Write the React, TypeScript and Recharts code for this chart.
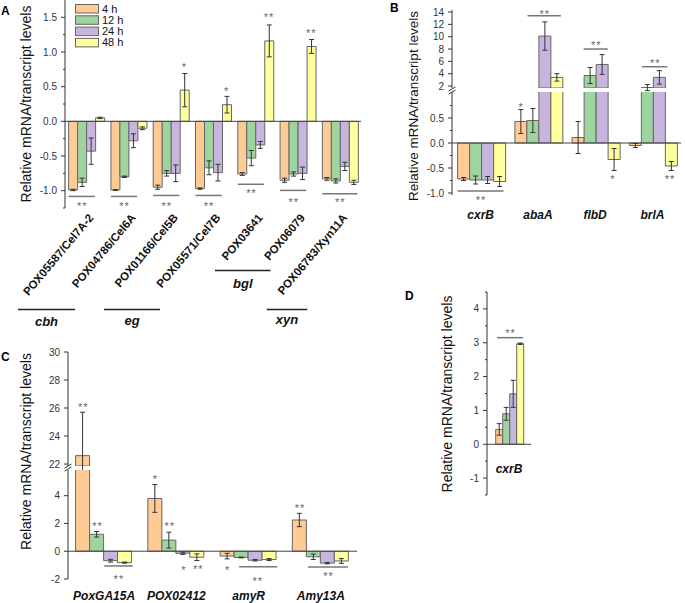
import React from 'react';
import { BarChart, Bar, XAxis, YAxis, ErrorBar, ReferenceLine, ReferenceDot } from 'recharts';

const FONT = '"Liberation Sans", Arial, Helvetica, sans-serif';
const SERIES = ['4 h', '12 h', '24 h', '48 h'];
const KEYS = ['h4', 'h12', 'h24', 'h48'];
const COLORS = ['#FFCB94', '#9ED59F', '#C7B5DF', '#FFFF9D'];
const Y_TITLE = 'Relative mRNA/transcript levels';

// ---- panel A: cellulase / xylanase genes
const A_GENES = ['POX05587/Cel7A-2', 'POX04786/Cel6A', 'POX01166/Cel5B', 'POX05571/Cel7B', 'POX03641', 'POX06079', 'POX06783/Xyn11A'];
const A_4H = [-0.99, -0.99, -0.95, -0.97, -0.76, -0.85, -0.83];
const A_4H_SD = [0.01, 0.005, 0.03, 0.01, 0.02, 0.03, 0.02];
const A_12H = [-0.88, -0.8, -0.75, -0.67, -0.53, -0.76, -0.86];
const A_12H_SD = [0.06, 0.01, 0.04, 0.1, 0.11, 0.03, 0.03];
const A_24H = [-0.43, -0.28, -0.75, -0.74, -0.34, -0.75, -0.65];
const A_24H_SD = [0.19, 0.1, 0.12, 0.12, 0.05, 0.09, 0.06];
const A_48H = [0.05, -0.1, 0.45, 0.24, 1.16, 1.08, -0.88];
const A_48H_SD = [0.01, 0.02, 0.24, 0.12, 0.23, 0.1, 0.03];
const A_TICKS = [-1, -0.5, 0, 0.5, 1, 1.5];
const A_MINOR = [-1.25, -1, -0.75, -0.5, -0.25, 0, 0.25, 0.5, 0.75, 1, 1.25, 1.5];
const A_FAMILIES = ['cbh', 'eg', 'bgl', 'xyn'];
const A_LINES = [
  { cat: 0, a: 0, b: 3, y: -1.083 },
  { cat: 1, a: 0, b: 3, y: -1.083 },
  { cat: 2, a: 0, b: 3, y: -1.069 },
  { cat: 3, a: 0, b: 3, y: -1.069 },
  { cat: 4, a: 0, b: 3, y: -0.908 },
  { cat: 5, a: 0, b: 3, y: -0.996 },
  { cat: 6, a: 0, b: 4, y: -1.045 },
];
const A_STARS = [
  { cat: 0, at: 1.5, y: -1.19, t: '**' },
  { cat: 1, at: 1.5, y: -1.19, t: '**' },
  { cat: 2, at: 1.5, y: -1.19, t: '**' },
  { cat: 3, at: 1.5, y: -1.19, t: '**' },
  { cat: 4, at: 1.5, y: -1.006, t: '**' },
  { cat: 5, at: 1.5, y: -1.14, t: '**' },
  { cat: 6, at: 2, y: -1.14, t: '**' },
  { cat: 2, at: 3.5, y: 0.816, t: '*' },
  { cat: 3, at: 3.5, y: 0.462, t: '*' },
  { cat: 4, at: 3.5, y: 1.53, t: '**' },
  { cat: 5, at: 3.5, y: 1.31, t: '**' },
];

// ---- panel B: conidiation regulators (broken axis)
const B_GENES = ['cxrB', 'abaA', 'flbD', 'brlA'];
const B_4H = [-0.72, 0.43, 0.11, -0.05];
const B_4H_SD = [0.03, 0.24, 0.32, 0.04];
const B_12H = [-0.74, 0.45, 3.7, 1.75];
const B_12H_SD = [0.08, 0.24, 1.3, 0.5];
const B_24H = [-0.74, 10.1, 5.5, 3.4];
const B_24H_SD = [0.07, 2.3, 1.6, 1.1];
const B_48H = [-0.77, 3.4, -0.33, -0.46];
const B_48H_SD = [0.1, 0.6, 0.22, 0.09];
const B_TICKS_UP = [2, 4, 6, 8, 10, 12, 14];
const B_TICKS_LO = [-1, -0.5, 0, 0.5];
const B_MINOR_LO = [-1, -0.75, -0.5, -0.25, 0, 0.25, 0.5, 0.75];
const B_LINES_UP = [
  { cat: 1, a: 1.1, b: 4, y: 13.39 },
  { cat: 2, a: 1, b: 3.1, y: 8.0 },
  { cat: 3, a: 1.1, b: 3.3, y: 5.13 },
];
const B_STARS_UP = [
  { cat: 1, at: 2.55, y: 14.04, t: '**' },
  { cat: 2, at: 2.05, y: 8.97, t: '**' },
  { cat: 3, at: 2.2, y: 6.05, t: '**' },
];
const B_LINES_LO = [{ cat: 0, a: 0, b: 4, y: -0.96 }];
const B_STARS_LO = [
  { cat: 0, at: 2, y: -1.1, t: '**' },
  { cat: 1, at: 0.5, y: 0.76, t: '*' },
  { cat: 2, at: 3.5, y: -0.68, t: '*' },
  { cat: 3, at: 3.5, y: -0.68, t: '**' },
];

// ---- panel C: amylase genes (broken axis)
const C_GENES = ['PoxGA15A', 'POX02412', 'amyR', 'Amy13A'];
const C_4H = [22.6, 3.8, -0.35, 2.25];
const C_4H_SD = [3.1, 1.0, 0.2, 0.48];
const C_12H = [1.22, 0.8, -0.45, -0.4];
const C_12H_SD = [0.2, 0.57, 0.03, 0.2];
const C_24H = [-0.68, -0.15, -0.65, -0.86];
const C_24H_SD = [0.1, 0.08, 0.05, 0.05];
const C_48H = [-0.82, -0.43, -0.6, -0.7];
const C_48H_SD = [0.04, 0.24, 0.07, 0.17];
const C_TICKS_UP = [22, 24, 26, 28, 30];
const C_TICKS_LO = [-2, 0, 2, 4];
const C_STARS_UP = [{ cat: 0, at: 0.5, y: 26.2, t: '**' }];
const C_LINES_LO = [
  { cat: 0, a: 2, b: 4, y: -1.06 },
  { cat: 2, a: 1.33, b: 4, y: -1.11 },
  { cat: 3, a: 1.1, b: 3.9, y: -1.13 },
];
const C_STARS_LO = [
  { cat: 0, at: 1.5, y: 1.99, t: '**' },
  { cat: 0, at: 3, y: -1.85, t: '**' },
  { cat: 1, at: 0.5, y: 5.37, t: '*' },
  { cat: 1, at: 1.5, y: 1.99, t: '**' },
  { cat: 1, at: 2.5, y: -1.2, t: '*' },
  { cat: 1, at: 3.5, y: -1.13, t: '**' },
  { cat: 2, at: 0.5, y: -1.2, t: '*' },
  { cat: 2, at: 2.6, y: -1.99, t: '**' },
  { cat: 3, at: 0.5, y: 3.26, t: '**' },
  { cat: 3, at: 2.5, y: -1.63, t: '**' },
];

// ---- panel D: cxrB
const D_GENES = ['cxrB'];
const D_4H = [0.44];
const D_4H_SD = [0.17];
const D_12H = [0.9];
const D_12H_SD = [0.19];
const D_24H = [1.49];
const D_24H_SD = [0.4];
const D_48H = [2.97];
const D_48H_SD = [0.02];
const D_TICKS = [-1, 0, 1, 2, 3, 4];
const D_MINOR = [-1.5, -1, -0.5, 0, 0.5, 1, 1.5, 2, 2.5, 3, 3.5, 4, 4.5];
const D_LINES = [{ cat: 0, a: 0.2, b: 4.1, y: 3.15 }];
const D_STARS = [{ cat: 0, at: 2.15, y: 3.35, t: '**' }];

const toRows = (genes: string[], means: number[][], sds: number[][]) =>
  genes.map((gene, i) => {
    const row: any = { gene };
    KEYS.forEach((k, j) => {
      row[k] = means[j][i];
      row[k + 'sd'] = sds[j][i];
    });
    return row;
  });

const A_ROWS = toRows(A_GENES, [A_4H, A_12H, A_24H, A_48H], [A_4H_SD, A_12H_SD, A_24H_SD, A_48H_SD]);
const B_ROWS = toRows(B_GENES, [B_4H, B_12H, B_24H, B_48H], [B_4H_SD, B_12H_SD, B_24H_SD, B_48H_SD]);
const C_ROWS = toRows(C_GENES, [C_4H, C_12H, C_24H, C_48H], [C_4H_SD, C_12H_SD, C_24H_SD, C_48H_SD]);
const D_ROWS = toRows(D_GENES, [D_4H, D_12H, D_24H, D_48H], [D_4H_SD, D_12H_SD, D_24H_SD, D_48H_SD]);

// plot widths (px) and side gap of each bar group (fraction of the band)
const A_PLOT_W = 296;
const B_PLOT_W = 229;
const C_PLOT_W = 289;
const D_PLOT_W = 44;
const A_GAP = 0.086;
const B_GAP = 0.098;
const C_GAP = 0.105;
const D_GAP = 0.198;
const pct = (g: number) => `${(g * 100).toFixed(1)}%`;

// pixel offset from a category centre to the left edge of bar "slot"
const slotOff = (slot: number, gap: number, band: number) => (gap + (slot * (1 - 2 * gap)) / 4 - 0.5) * band;

const TICK = { fontSize: 10, fill: '#333', fontFamily: FONT };

const renderBars = (floor?: number) =>
  KEYS.map((k, j) => (
    <Bar
      key={k}
      dataKey={floor === undefined ? k : (r: any) => (r[k] > floor ? r[k] : null)}
      name={SERIES[j]}
      fill={COLORS[j]}
      stroke="#666"
      strokeWidth={1}
      isAnimationActive={false}
    >
      <ErrorBar dataKey={k + 'sd'} width={2.5} stroke="#333" strokeWidth={1} isAnimationActive={false} />
    </Bar>
  ));

const renderLines = (list: any[], genes: string[], gap: number, plotW: number) => {
  const band = plotW / genes.length;
  return list.map((l, i) => (
    <ReferenceDot
      key={'l' + i}
      x={genes[l.cat]}
      y={l.y}
      r={0}
      ifOverflow="visible"
      shape={(p: any) => (
        <line x1={p.cx + slotOff(l.a, gap, band)} x2={p.cx + slotOff(l.b, gap, band)} y1={p.cy} y2={p.cy} stroke="#777" strokeWidth={1.5} />
      )}
    />
  ));
};

const renderStars = (list: any[], genes: string[], gap: number, plotW: number) => {
  const band = plotW / genes.length;
  return list.map((s, i) => (
    <ReferenceDot
      key={'s' + i}
      x={genes[s.cat]}
      y={s.y}
      r={0}
      ifOverflow="visible"
      shape={(p: any) => (
        <text x={p.cx + slotOff(s.at, gap, band) + 0.5} y={p.cy + 6} textAnchor="middle" fontSize={11} fill="#666" letterSpacing={1} fontFamily={FONT}>
          {s.t}
        </text>
      )}
    />
  ));
};

const SlantTick = (p: any) => {
  const x = p.x + 8;
  const y = p.y + 10;
  return (
    <text x={x} y={y} transform={`rotate(-50 ${x} ${y})`} textAnchor="end" fontSize={11.5} fontWeight="bold" fill="#111" fontFamily={FONT}>
      {p.payload.value}
    </text>
  );
};

const geneTick = (dy: number) => (p: any) => (
  <text x={p.x} y={p.y + dy} textAnchor="middle" fontSize={12} fontWeight="bold" fontStyle="italic" fill="#111" fontFamily={FONT}>
    {p.payload.value}
  </text>
);

// y tick with long marks + labels on major values, short marks on minor ones
const minorTick = (majors: number[], fmt: (v: number) => string) => (p: any) => {
  const v = p.payload.value;
  const major = majors.some((m) => Math.abs(m - v) < 1e-9);
  const ax = p.x + 6;
  return (
    <g>
      <line x1={ax - (major ? 4 : 2)} x2={ax} y1={p.y} y2={p.y} stroke="#333" />
      {major && (
        <text x={ax - 8} y={p.y} dy={3.5} textAnchor="end" fontSize={10} fill="#333" fontFamily={FONT}>
          {fmt(v)}
        </text>
      )}
    </g>
  );
};

const fix1 = (v: number) => v.toFixed(1);
const int = (v: number) => String(v);

const Place = ({ left, top, children }: any) => <div style={{ position: 'absolute', left, top }}>{children}</div>;

function PanelA() {
  return (
    <BarChart width={370} height={330} data={A_ROWS} margin={{ top: 0, right: 9, bottom: 2, left: 0 }} barGap={0} barCategoryGap={pct(A_GAP)}>
      <XAxis dataKey="gene" interval={0} axisLine={false} tickLine={false} tickSize={0} tickMargin={0} height={120} tick={SlantTick} />
      <YAxis width={65} domain={[-1.25, 1.75]} ticks={A_MINOR} interval={0} allowDataOverflow tick={minorTick(A_TICKS, fix1)} tickLine={false} tickSize={4} tickMargin={2} stroke="#333" />
      <ReferenceLine y={0} stroke="#444" />
      {renderBars()}
      {renderLines(A_LINES, A_GENES, A_GAP, A_PLOT_W)}
      {renderStars(A_STARS, A_GENES, A_GAP, A_PLOT_W)}
    </BarChart>
  );
}

function PanelBUpper() {
  return (
    <BarChart width={293} height={96} data={B_ROWS} margin={{ top: 10, right: 4, bottom: 8, left: 0 }} barGap={0} barCategoryGap={pct(B_GAP)}>
      <XAxis dataKey="gene" hide />
      <YAxis width={60} domain={[1.68, 14.33]} ticks={B_TICKS_UP} interval={0} allowDataOverflow tick={TICK} tickSize={4} tickMargin={4} stroke="#333" />
      {renderBars(1.68)}
      {renderLines(B_LINES_UP, B_GENES, B_GAP, B_PLOT_W)}
      {renderStars(B_STARS_UP, B_GENES, B_GAP, B_PLOT_W)}
    </BarChart>
  );
}

function PanelBLower() {
  return (
    <BarChart width={293} height={140} data={B_ROWS} margin={{ top: 2, right: 4, bottom: 5, left: 0 }} barGap={0} barCategoryGap={pct(B_GAP)}>
      <XAxis dataKey="gene" interval={0} axisLine={false} tickLine={false} tickSize={0} tickMargin={0} height={30} tick={geneTick(24)} />
      <YAxis width={60} domain={[-1.04, 1.02]} ticks={B_MINOR_LO} interval={0} allowDataOverflow tick={minorTick(B_TICKS_LO, fix1)} tickLine={false} tickSize={4} tickMargin={2} stroke="#333" />
      <ReferenceLine y={0} stroke="#444" />
      {renderBars()}
      {renderLines(B_LINES_LO, B_GENES, B_GAP, B_PLOT_W)}
      {renderStars(B_STARS_LO, B_GENES, B_GAP, B_PLOT_W)}
    </BarChart>
  );
}

function PanelCUpper() {
  return (
    <BarChart width={360} height={129} data={C_ROWS} margin={{ top: 7, right: 3, bottom: 8, left: 0 }} barGap={0} barCategoryGap={pct(C_GAP)}>
      <XAxis dataKey="gene" hide />
      <YAxis width={68} domain={[21.86, 30]} ticks={C_TICKS_UP} interval={0} allowDataOverflow tick={TICK} tickSize={4} tickMargin={4} stroke="#333" />
      {renderBars(21.86)}
      {renderStars(C_STARS_UP, C_GENES, C_GAP, C_PLOT_W)}
    </BarChart>
  );
}

function PanelCLower() {
  return (
    <BarChart width={360} height={142} data={C_ROWS} margin={{ top: 2, right: 3, bottom: 9, left: 0 }} barGap={0} barCategoryGap={pct(C_GAP)}>
      <XAxis dataKey="gene" interval={0} axisLine={false} tickLine={false} tickSize={0} tickMargin={0} height={22} tick={geneTick(21)} />
      <YAxis width={68} domain={[-2, 5.85]} ticks={C_TICKS_LO} interval={0} allowDataOverflow tick={TICK} tickSize={4} tickMargin={4} stroke="#333" />
      <ReferenceLine y={0} stroke="#444" />
      {renderBars()}
      {renderLines(C_LINES_LO, C_GENES, C_GAP, C_PLOT_W)}
      {renderStars(C_STARS_LO, C_GENES, C_GAP, C_PLOT_W)}
    </BarChart>
  );
}

function PanelD() {
  return (
    <BarChart width={95} height={215} data={D_ROWS} margin={{ top: 7, right: 4, bottom: 4, left: 0 }} barGap={0} barCategoryGap={pct(D_GAP)}>
      <XAxis dataKey="gene" interval={0} axisLine={false} tickLine={false} tickSize={0} tickMargin={0} height={1} tick={geneTick(-22)} />
      <YAxis width={47} domain={[-1.5, 4.5]} ticks={D_MINOR} interval={0} allowDataOverflow tick={minorTick(D_TICKS, int)} tickLine={false} tickSize={4} tickMargin={2} stroke="#333" />
      <ReferenceLine y={0} stroke="#444" />
      {renderBars()}
      {renderLines(D_LINES, D_GENES, D_GAP, D_PLOT_W)}
      {renderStars(D_STARS, D_GENES, D_GAP, D_PLOT_W)}
    </BarChart>
  );
}

const LETTERS = [
  { t: 'A', x: 1, y: 15 },
  { t: 'B', x: 390, y: 12 },
  { t: 'C', x: 1, y: 361 },
  { t: 'D', x: 405, y: 300 },
];
const Y_TITLE_POS = [
  { x: 25.5, y: 104, s: 14 },
  { x: 413.5, y: 106, s: 13.5 },
  { x: 25.5, y: 451.5, s: 14 },
  { x: 447, y: 394, s: 14 },
];
const FAMILY_POS = [
  { x1: 18, x2: 75, ly: 309.5, ty: 325.5 },
  { x1: 104, x2: 160, ly: 309.5, ty: 324.5 },
  { x1: 215, x2: 270.5, ly: 270.5, ty: 287.5 },
  { x1: 266.7, x2: 307.3, ly: 309.5, ty: 323.5 },
];
const BREAKS = [
  { x: 452, y: 90.5 },
  { x: 68, y: 467.5 },
];

function Overlay() {
  return (
    <svg width={685} height={603} style={{ position: 'absolute', left: 0, top: 0, zIndex: 5, pointerEvents: 'none' }} fontFamily={FONT}>
      {LETTERS.map((l) => (
        <text key={l.t} x={l.x} y={l.y} fontSize={12} fontWeight="bold" fill="#000">
          {l.t}
        </text>
      ))}
      {Y_TITLE_POS.map((p, i) => (
        <text key={i} x={p.x} y={p.y} fontSize={p.s} fill="#111" textAnchor="middle" dominantBaseline="central" transform={`rotate(-90 ${p.x} ${p.y})`}>
          {Y_TITLE}
        </text>
      ))}
      {A_FAMILIES.map((f, i) => {
        const p = FAMILY_POS[i];
        return (
          <g key={f}>
            <line x1={p.x1} x2={p.x2} y1={p.ly} y2={p.ly} stroke="#222" strokeWidth={1.3} />
            <text x={(p.x1 + p.x2) / 2} y={p.ty} fontSize={13} fontWeight="bold" fontStyle="italic" textAnchor="middle" fill="#111">
              {f}
            </text>
          </g>
        );
      })}
      {BREAKS.map((b, i) => (
        <g key={i} stroke="#333" strokeWidth={1}>
          <line x1={b.x - 3.5} y1={b.y + 0.5} x2={b.x + 3.5} y2={b.y - 3.5} />
          <line x1={b.x - 3.5} y1={b.y + 3.5} x2={b.x + 3.5} y2={b.y - 0.5} />
        </g>
      ))}
      {SERIES.map((s, i) => (
        <g key={s}>
          <rect x={75.5} y={4.5 + i * 11.3} width={23} height={8.5} fill={COLORS[i]} stroke="#666" strokeWidth={1} />
          <text x={102} y={12.5 + i * 11.3} fontSize={11} fill="#111">
            {s}
          </text>
        </g>
      ))}
    </svg>
  );
}

export default function App() {
  return (
    <div style={{ position: 'absolute', left: 0, top: 0, width: 685, height: 603, background: '#fff', fontFamily: FONT }}>
      <Place left={0} top={0}>
        <PanelA />
      </Place>
      <Place left={392} top={0}>
        <PanelBUpper />
      </Place>
      <Place left={392} top={90}>
        <PanelBLower />
      </Place>
      <Place left={0} top={345}>
        <PanelCUpper />
      </Place>
      <Place left={0} top={468}>
        <PanelCLower />
      </Place>
      <Place left={440} top={285}>
        <PanelD />
      </Place>
      <Overlay />
    </div>
  );
}
